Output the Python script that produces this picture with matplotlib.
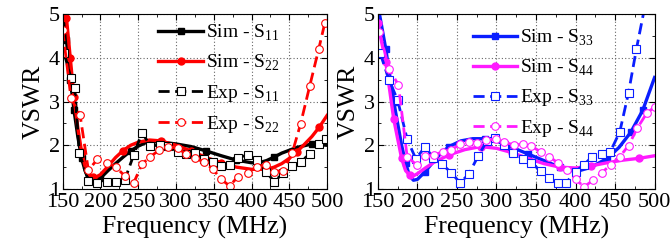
import matplotlib
matplotlib.use("Agg")
import matplotlib.pyplot as plt
from matplotlib.ticker import MultipleLocator

plt.rcParams["font.family"] = ["Liberation Serif", "DejaVu Serif"]
plt.rcParams["mathtext.fontset"] = "custom"
plt.rcParams["mathtext.rm"] = "Liberation Serif"

# --- left panel: ports 1 and 2 ---
f_sim11 = [150, 155, 160, 165, 170, 175, 180, 185, 190, 195, 200, 210, 220, 230, 240, 250, 260, 270, 280,
           300, 320, 340, 360, 380, 400, 410, 420, 430, 440, 460, 480, 500]
sim11 = [5.2, 4.4, 3.5, 2.8, 2.2, 1.7, 1.4, 1.25, 1.2, 1.2, 1.25, 1.42, 1.58, 1.73, 1.87, 1.98, 2.06, 2.08, 2.07,
         2.03, 1.97, 1.87, 1.76, 1.66, 1.6, 1.6, 1.65, 1.73, 1.82, 1.95, 2.03, 2.0]

f_sim22 = [150, 155, 160, 165, 170, 175, 180, 185, 190, 195, 200, 210, 220, 230, 240, 250, 265, 280, 300,
           320, 340, 360, 380, 400, 420, 430, 440, 450, 460, 470, 480, 490, 500]
sim22 = [5.5, 4.9, 4.0, 3.1, 2.4, 1.85, 1.5, 1.32, 1.27, 1.28, 1.33, 1.52, 1.72, 1.88, 2.0, 2.07, 2.12, 2.1, 2.0,
         1.87, 1.72, 1.6, 1.5, 1.45, 1.45, 1.5, 1.58, 1.7, 1.85, 2.02, 2.2, 2.42, 2.68]

f_exp11 = [152, 161, 166, 172, 184, 196, 208, 220, 232, 244, 255, 266, 279, 290, 302, 313, 325, 337, 349,
           360, 371, 382, 396, 407, 419, 430, 442, 454, 465, 477, 489, 499]
exp11 = [4.1, 3.53, 3.3, 1.83, 1.18, 1.13, 1.17, 1.17, 1.2, 1.78, 2.29, 1.99, 2.0, 1.99, 1.85, 1.79, 1.83, 1.69, 1.61,
         1.53, 1.55, 1.72, 1.78, 1.66, 1.4, 1.17, 1.36, 1.53, 1.62, 1.8, 2.03, 2.14]

f_exp22 = [150, 161, 173, 184, 196, 208, 220, 232, 244, 255, 266, 278, 290, 302, 313, 325, 337, 349, 360,
           371, 382, 395, 407, 419, 430, 442, 454, 465, 477, 489, 497]
exp22 = [4.63, 3.07, 2.69, 1.43, 1.68, 1.6, 1.51, 1.3, 1.14, 1.57, 1.74, 1.89, 1.97, 1.93, 1.81, 1.7, 1.62, 1.45, 1.22,
         1.07, 1.28, 1.37, 1.51, 1.56, 1.4, 1.42, 1.83, 2.49, 3.35, 4.2, 4.79]

# --- right panel: ports 3 and 4 ---
f_sim33 = [150, 152, 160, 170, 180, 185, 190, 195, 200, 210, 220, 230, 240, 255, 270, 285, 300, 320, 340,
           360, 380, 395, 405, 420, 440, 455, 470, 485, 500]
sim33 = [5.3, 5.0, 4.2, 3.0, 2.0, 1.6, 1.3, 1.2, 1.22, 1.4, 1.62, 1.82, 1.97, 2.1, 2.15, 2.15, 2.1, 1.95, 1.8,
         1.65, 1.5, 1.42, 1.42, 1.5, 1.7, 1.95, 2.3, 2.8, 3.55]

f_sim44 = [150, 152, 160, 170, 180, 185, 190, 195, 200, 210, 220, 240, 260, 280, 300, 320, 340, 360, 380,
           400, 420, 440, 460, 480, 500]
sim44 = [4.8, 4.6, 3.9, 2.6, 1.7, 1.42, 1.32, 1.3, 1.35, 1.48, 1.6, 1.78, 1.9, 1.97, 1.93, 1.83, 1.7, 1.58, 1.5,
         1.48, 1.53, 1.6, 1.66, 1.7, 1.76]

f_exp33 = [153, 164, 175, 187, 198, 210, 220, 231, 243, 254, 265, 277, 288, 298, 310, 321, 333, 344, 356,
           367, 378, 388, 400, 411, 421, 433, 444, 456, 467, 477, 488]
exp33 = [4.1, 3.5, 3.03, 2.14, 1.69, 1.97, 1.7, 1.57, 1.37, 1.14, 1.34, 1.76, 2.1, 2.16, 2.0, 1.83, 1.69, 1.6, 1.41,
         1.24, 1.13, 1.14, 1.4, 1.56, 1.74, 1.8, 1.85, 2.31, 3.2, 4.2, 5.2]

f_exp44 = [152, 164, 176, 187, 199, 210, 221, 232, 243, 254, 265, 276, 287, 299, 310, 322, 333, 344, 356,
           367, 378, 389, 400, 411, 422, 433, 445, 456, 467, 478, 490, 500]
exp44 = [4.6, 3.75, 3.38, 1.74, 1.55, 1.75, 1.78, 1.85, 1.9, 2.02, 2.08, 2.05, 2.12, 2.14, 2.07, 2.01, 2.02, 1.98,
         1.85, 1.74, 1.59, 1.43, 1.22, 1.05, 1.2, 1.37, 1.56, 1.74, 1.99, 2.39, 2.73, 2.88]

fig = plt.figure(figsize=(6.7, 2.45), dpi=100)
ax1 = fig.add_axes([0.0936, 0.2286, 0.3945, 0.714])
ax2 = fig.add_axes([0.564, 0.2286, 0.413, 0.714])

panels = [
    (ax1, [(f_sim11, sim11, "black", "s", "Sim - S$_{11}$"),
           (f_sim22, sim22, "red", "o", "Sim - S$_{22}$")],
          [(f_exp11, exp11, "black", "s", "Exp - S$_{11}$"),
           (f_exp22, exp22, "red", "o", "Exp - S$_{22}$")], (0.355, 0.96)),
    (ax2, [(f_sim33, sim33, "#0a1eff", "s", "Sim - S$_{33}$"),
           (f_sim44, sim44, "#ff1aff", "o", "Sim - S$_{44}$")],
          [(f_exp33, exp33, "#0a1eff", "s", "Exp - S$_{33}$"),
           (f_exp44, exp44, "#ff1aff", "o", "Exp - S$_{44}$")], (0.335, 0.935)),
]

for ax, sims, exps, anchor in panels:
    for f, v, c, m, lab in sims:
        ax.plot(f, v, color=c, lw=2.4, marker=m, ms=5, markevery=0.12, label=lab)
    for f, v, c, m, lab in exps:
        ax.plot(f, v, color=c, lw=2.0, ls=(0, (4, 2)), marker=m, ms=5.5, mfc="white",
                mec=c, mew=0.8, label=lab)
    ax.set_xlim(150, 500)
    ax.set_ylim(1, 5)
    ax.xaxis.set_major_locator(MultipleLocator(50))
    ax.yaxis.set_major_locator(MultipleLocator(1))
    ax.xaxis.set_minor_locator(MultipleLocator(25))
    ax.yaxis.set_minor_locator(MultipleLocator(0.5))
    ax.tick_params(which="both", direction="in", top=True, right=True, labelsize=16, pad=2)
    ax.tick_params(axis="x", pad=3)
    ax.tick_params(which="major", length=4)
    ax.tick_params(which="minor", length=2)
    ax.grid(True, which="major", color="#666666", ls=(0, (1, 2)), lw=0.8)
    ax.set_xlabel("Frequency (MHz)", fontsize=18.5, labelpad=3)
    ax.set_ylabel("VSWR", fontsize=18.5, labelpad=3)
    ax.legend(loc="upper left", bbox_to_anchor=anchor, frameon=False, fontsize=14,
              numpoints=1, handlelength=2.3, handletextpad=0.15, labelspacing=0.5,
              borderaxespad=0, borderpad=0.1)

fig.savefig("out.png", dpi=100)
